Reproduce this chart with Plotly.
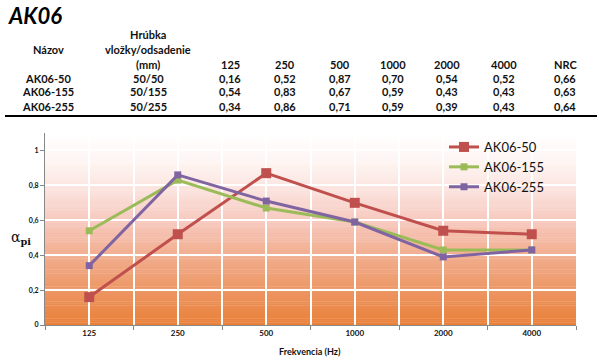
import plotly.graph_objects as go

# ---------------- data ----------------
title_text = "AK06"
frequencies = ["125", "250", "500", "1000", "2000", "4000"]
series_names = ["AK06-50", "AK06-155", "AK06-255"]
thickness = ["50/50", "50/155", "50/255"]
alpha_50 = [0.16, 0.52, 0.87, 0.70, 0.54, 0.52]
alpha_155 = [0.54, 0.83, 0.67, 0.59, 0.43, 0.43]
alpha_255 = [0.34, 0.86, 0.71, 0.59, 0.39, 0.43]
nrc = [0.66, 0.63, 0.64]
y_ticks = [0, 0.2, 0.4, 0.6, 0.8, 1.0]
y_tick_labels = ["0", "0,2", "0,4", "0,6", "0,8", "1"]

series_values = [alpha_50, alpha_155, alpha_255]
colors = ["#C0504D", "#9BBB59", "#8064A2"]
marker_sizes = [10, 7, 7]

W, H = 607, 363
L, R, T, B = 45, 31, 133, 38
PW, PH = W - L - R, H - T - B


def px(x):
    return (x - L) / PW


def py(y):
    return (H - B - y) / PH


FONT = "Lato"
fig = go.Figure()
xs = list(range(len(frequencies)))
for name, vals, col, ms in zip(series_names, series_values, colors, marker_sizes):
    fig.add_trace(go.Scatter(
        x=xs, y=vals, name=name, mode="lines+markers",
        line=dict(color=col, width=3),
        marker=dict(symbol="square", size=ms, color=col),
    ))

# gradient background bands
stops = [
    (0.00, (233, 128, 56)),
    (0.15, (236, 146, 92)),
    (0.35, (241, 172, 140)),
    (0.55, (247, 202, 192)),
    (0.70, (251, 226, 221)),
    (0.85, (254, 245, 242)),
    (1.00, (255, 255, 255)),
]


def grad(f):
    for (f0, c0), (f1, c1) in zip(stops[:-1], stops[1:]):
        if f0 <= f <= f1:
            t = (f - f0) / (f1 - f0)
            return "rgb(%d,%d,%d)" % tuple(round(a + (b - a) * t) for a, b in zip(c0, c1))
    return "rgb(255,255,255)"


N = 90
shapes = []
for i in range(N):
    f0, f1 = i / N, (i + 1) / N
    shapes.append(dict(type="rect", xref="x domain", yref="y domain",
                       x0=0, x1=1, y0=f0, y1=f1 + 0.002, line=dict(width=0),
                       fillcolor=grad((f0 + f1) / 2), layer="below"))
# table rule
shapes.append(dict(type="line", xref="paper", yref="paper", x0=px(5), x1=px(597),
                   y0=py(116), y1=py(116), line=dict(color="black", width=2)))

annotations = []


def txt(x, y, s, size=11, anchor="center", bold=True, italic=False, color="#111"):
    s2 = "<b>%s</b>" % s if bold else s
    if italic:
        s2 = "<i>%s</i>" % s2
    annotations.append(dict(xref="paper", yref="paper", x=px(x), y=py(y), text=s2,
                            showarrow=False, xanchor=anchor, yanchor="middle",
                            font=dict(family=FONT, size=size, color=color)))


txt(6, 15, title_text, size=22, anchor="left", italic=True, color="#000")
txt(48, 50, "Názov")
txt(148, 35, "Hrúbka")
txt(148, 50, "vložky/odsadenie")
txt(148, 64, "(mm)")
col_x = [230, 285, 340, 393, 447, 504]
for cx, f in zip(col_x, frequencies):
    txt(cx, 64, f)
txt(565, 64, "NRC")
row_y = [78, 92, 107]
for ry, name, th, vals, n in zip(row_y, series_names, thickness, series_values, nrc):
    txt(48, ry, name)
    txt(148, ry, th)
    for cx, v in zip(col_x, vals):
        txt(cx, ry, ("%.2f" % v).replace(".", ","))
    txt(565, ry, ("%.2f" % n).replace(".", ","))

# axis titles
annotations.append(dict(xref="paper", yref="paper", x=px(21), y=py(238),
                        text="α<sub><b>pi</b></sub>", showarrow=False,
                        xanchor="center", yanchor="middle",
                        font=dict(family="DejaVu Serif", size=14, color="#111")))
txt(310, 351, "Frekvencia (Hz)", size=9)

fig.update_layout(
    width=W, height=H, margin=dict(l=L, r=R, t=T, b=B),
    paper_bgcolor="white", plot_bgcolor="white",
    shapes=shapes, annotations=annotations,
    showlegend=True,
    legend=dict(x=px(444), y=py(132), xanchor="left", yanchor="top",
                bgcolor="rgba(0,0,0,0)", font=dict(family=FONT, size=13, color="#111"),
                itemwidth=30, tracegroupgap=0),
    font=dict(family=FONT),
)
fig.update_xaxes(
    range=[-0.5, len(frequencies) - 0.5],
    tickvals=xs, ticktext=["<b>%s</b>" % f for f in frequencies],
    ticks="", showgrid=True, gridcolor="white", gridwidth=1.5,
    showline=True, linecolor="#888", linewidth=1,
    tickfont=dict(family=FONT, size=8, color="#111"),
    zeroline=False,
    minor=dict(tick0=-0.5, dtick=1, ticks="outside", ticklen=4, tickcolor="#888",
               showgrid=True, gridcolor="white", gridwidth=1.5),
)
fig.update_yaxes(
    range=[0, 1.1], tickvals=y_ticks, ticktext=["<b>%s</b>" % t for t in y_tick_labels],
    ticks="outside", ticklen=4, tickcolor="#888",
    showgrid=True, gridcolor="white", gridwidth=1.5,
    showline=True, linecolor="#888", linewidth=1,
    tickfont=dict(family=FONT, size=7, color="#111"),
    zeroline=False,
)
fig.write_html("out.html", config={"displayModeBar": False},
               post_script="document.body.style.margin='0';")
